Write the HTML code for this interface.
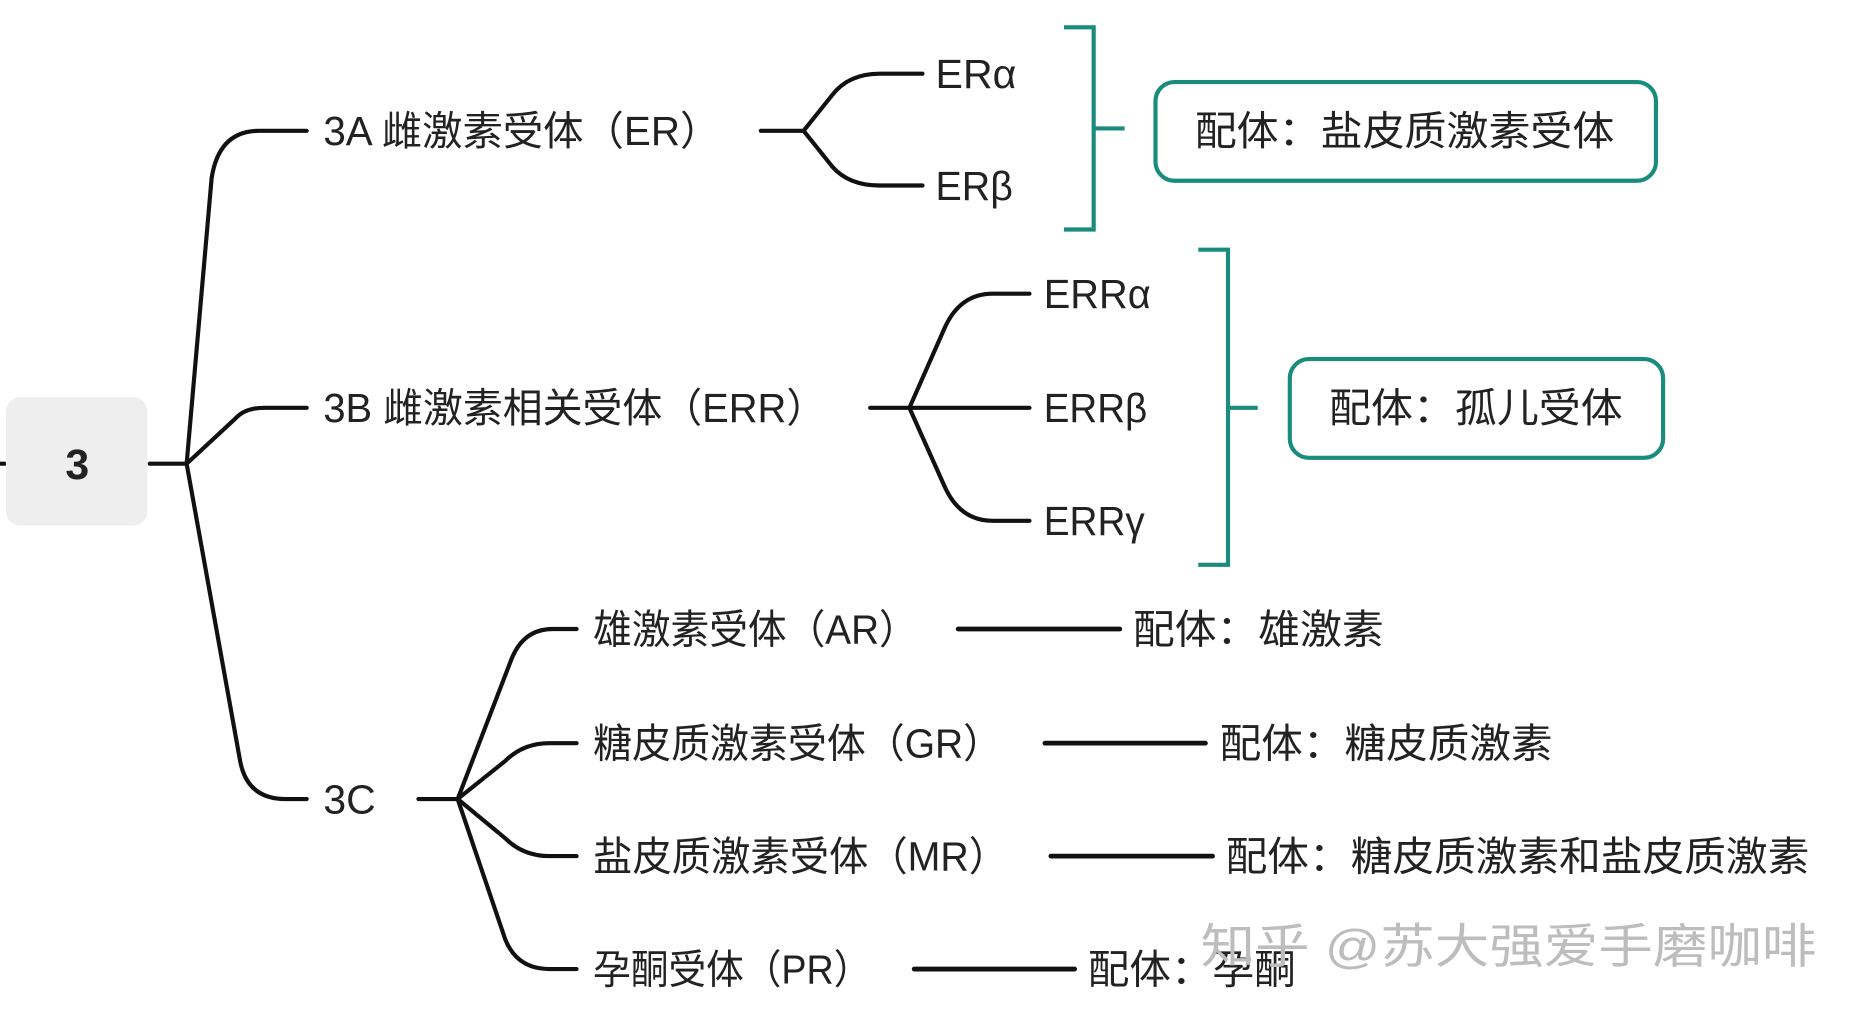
<!DOCTYPE html>
<html><head><meta charset="utf-8"><style>
html,body{margin:0;padding:0;background:#fff;}
svg{display:block;}
text{font-family:"Liberation Sans","Noto Sans CJK SC",sans-serif;fill:#222;}
</style></head><body>
<svg width="1864" height="1019" viewBox="0 0 1568 857" preserveAspectRatio="none" xmlns="http://www.w3.org/2000/svg">
<g fill="none" stroke="#111" stroke-width="3.5" stroke-linecap="round">
<line x1="0" y1="390" x2="4" y2="390"/>
<line x1="126" y1="390" x2="157" y2="390"/>
<path d="M157 390 L178 150 Q184 110 218 110 L258 110"/>
<path d="M157 390 L198 352 Q206 343 222 343 L258 343"/>
<path d="M157 390 L202 640 Q208 672 240 672 L258 672"/>
<line x1="640" y1="110" x2="676" y2="110"/>
<path d="M676 110 L700 80 Q714 62 740 62 L776 62"/>
<path d="M676 110 L700 140 Q714 156 740 156 L776 156"/>
<line x1="732" y1="343" x2="866" y2="343"/>
<path d="M765 343 L795 275 Q808 247 835 247 L866 247"/>
<path d="M765 343 L795 410 Q808 438 835 438 L866 438"/>
<line x1="352" y1="672" x2="385" y2="672"/>
<path d="M385 672 L430 555 Q440 529 465 529 L485 529"/>
<path d="M385 672 L425 640 Q440 625 462 625 L485 625"/>
<path d="M385 672 L425 705 Q440 720 462 720 L485 720"/>
<path d="M385 672 L425 790 Q435 815 462 815 L485 815"/>
<line x1="806" y1="529" x2="942" y2="529" stroke-width="4"/>
<line x1="879" y1="625" x2="1014" y2="625" stroke-width="4"/>
<line x1="884" y1="720" x2="1020" y2="720" stroke-width="4"/>
<line x1="769" y1="815" x2="904" y2="815" stroke-width="4"/>
</g>
<g fill="none" stroke="#1a8c7e" stroke-width="3.5">
<path d="M895 23 L920 23 L920 193 L895 193"/>
<line x1="920" y1="108" x2="946" y2="108"/>
<rect x="972" y="69" width="421" height="83" rx="16"/>
<path d="M1008 210 L1033 210 L1033 475 L1008 475"/>
<line x1="1033" y1="343" x2="1058" y2="343"/>
<rect x="1085" y="302" width="314" height="83" rx="16"/>
</g>
<rect x="5" y="334" width="119" height="108" rx="12" fill="#eeeeee"/>
<text x="65" y="403" font-size="36" font-weight="bold" text-anchor="middle">3</text>
<g font-size="34">
<text x="272" y="122" textLength="334" lengthAdjust="spacingAndGlyphs">3A  雌激素受体（ER）</text>
<text x="272" y="355" textLength="423" lengthAdjust="spacingAndGlyphs">3B  雌激素相关受体（ERR）</text>
<text x="272" y="684" textLength="44" lengthAdjust="spacingAndGlyphs">3C</text>
<text x="787" y="74" textLength="68" lengthAdjust="spacingAndGlyphs">ERα</text>
<text x="787" y="168" textLength="65" lengthAdjust="spacingAndGlyphs">ERβ</text>
<text x="878" y="259" textLength="90" lengthAdjust="spacingAndGlyphs">ERRα</text>
<text x="878" y="355" textLength="87" lengthAdjust="spacingAndGlyphs">ERRβ</text>
<text x="878" y="450" textLength="85" lengthAdjust="spacingAndGlyphs">ERRγ</text>
<text x="1005" y="122" textLength="353" lengthAdjust="spacingAndGlyphs">配体：盐皮质激素受体</text>
<text x="1118" y="355" textLength="247" lengthAdjust="spacingAndGlyphs">配体：孤儿受体</text>
<text x="499" y="541" textLength="273" lengthAdjust="spacingAndGlyphs">雄激素受体（AR）</text>
<text x="499" y="637" textLength="344" lengthAdjust="spacingAndGlyphs">糖皮质激素受体（GR）</text>
<text x="499" y="732" textLength="349" lengthAdjust="spacingAndGlyphs">盐皮质激素受体（MR）</text>
<text x="499" y="827" textLength="234" lengthAdjust="spacingAndGlyphs">孕酮受体（PR）</text>
<text x="953" y="541" textLength="211" lengthAdjust="spacingAndGlyphs">配体：雄激素</text>
<text x="1026" y="637" textLength="280" lengthAdjust="spacingAndGlyphs">配体：糖皮质激素</text>
<text x="1031" y="732" textLength="491" lengthAdjust="spacingAndGlyphs">配体：糖皮质激素和盐皮质激素</text>
<text x="915" y="827" textLength="175" lengthAdjust="spacingAndGlyphs">配体：孕酮</text>
</g>
<text x="1010" y="810" font-size="40" textLength="518" lengthAdjust="spacingAndGlyphs" style="fill:#bdbdbd">知乎 @苏大强爱手磨咖啡</text>
</svg>
</body></html>
